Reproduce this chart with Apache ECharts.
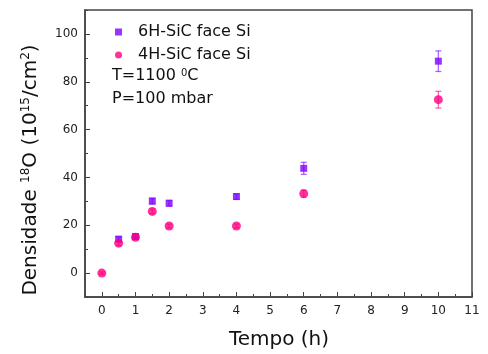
<!DOCTYPE html>
<html><head><meta charset="utf-8">
<script src="https://cdn.jsdelivr.net/npm/echarts@6/dist/echarts.min.js"></script>
<style>html,body{margin:0;padding:0;background:#fff}#c{width:488px;height:354px}</style>
</head><body><div id="c"></div>
<script>
const times6H = [0.5, 1, 1.5, 2, 4, 6, 10];
const dens6H  = [14.2, 15.3, 30.1, 29.2, 32.0, 43.8, 88.6];
const err6H   = [1.0, 1.0, 1.2, 1.2, 1.2, 2.5, 4.3];
const times4H = [0, 0.5, 1, 1.5, 2, 4, 6, 10];
const dens4H  = [0, 12.5, 15.0, 25.8, 19.7, 19.7, 33.2, 72.5];
const err4H   = [0.5, 1.0, 1.0, 1.0, 0.8, 0.8, 1.5, 3.5];
const xTicks = [0,1,2,3,4,5,6,7,8,9,10,11];
const xMinor = [-0.5,0.5,1.5,2.5,3.5,4.5,5.5,6.5,7.5,8.5,9.5,10.5];
const yTicks = [0,20,40,60,80,100];
const yMinor = [-10,10,30,50,70,90,110];

const c6 = '#7f00ff', c4 = '#ff0080';
const FONT = 'DejaVu Sans';

function errSeries(name, xs, ys, es, color){
  return {
    name: name + ' err', type: 'custom', xAxisIndex: 0, yAxisIndex: 0, z: 1,
    data: xs.map((x,i)=>[x, ys[i]-es[i], ys[i]+es[i]]),
    renderItem: function(params, api){
      const lo = api.coord([api.value(0), api.value(1)]);
      const hi = api.coord([api.value(0), api.value(2)]);
      const w = 3;
      const st = {stroke: color, lineWidth: 1.3, opacity: 0.6};
      return {type:'group', children:[
        {type:'line', shape:{x1:lo[0],y1:lo[1],x2:hi[0],y2:hi[1]}, style:st},
        {type:'line', shape:{x1:lo[0]-w,y1:lo[1],x2:lo[0]+w,y2:lo[1]}, style:st},
        {type:'line', shape:{x1:hi[0]-w,y1:hi[1],x2:hi[0]+w,y2:hi[1]}, style:st}
      ]};
    }
  };
}

const axisLineStyle = {color:'#444', width:1.5};
const chart = echarts.init(document.getElementById('c'));
chart.setOption({
  animation:false,
  textStyle:{fontFamily:FONT},
  grid:{left:85, right:16, top:10, bottom:57, show:true, borderColor:'#444', borderWidth:1.5, backgroundColor:'transparent'},
  xAxis:[
    {type:'value', min:-0.5, max:11, splitLine:{show:false},
     axisLine:{show:true, onZero:false, lineStyle:axisLineStyle},
     axisTick:{show:true, inside:true, length:5, customValues:xTicks, lineStyle:{color:'#444'}},
     axisLabel:{show:true, customValues:xTicks, fontSize:12, color:'#222', fontFamily:FONT, margin:8}},
    {type:'value', min:-0.5, max:11, position:'bottom', splitLine:{show:false},
     axisLine:{show:false, onZero:false},
     axisTick:{show:true, inside:true, length:3, customValues:xMinor, lineStyle:{color:'#444'}},
     axisLabel:{show:false}}
  ],
  yAxis:[
    {type:'value', min:-10, max:110, splitLine:{show:false},
     axisLine:{show:true, onZero:false, lineStyle:axisLineStyle},
     axisTick:{show:true, inside:true, length:5, customValues:yTicks, lineStyle:{color:'#444'}},
     axisLabel:{show:true, customValues:yTicks, fontSize:12, color:'#222', fontFamily:FONT, margin:7}},
    {type:'value', min:-10, max:110, position:'left', splitLine:{show:false},
     axisLine:{show:false, onZero:false},
     axisTick:{show:true, inside:true, length:3, customValues:yMinor, lineStyle:{color:'#444'}},
     axisLabel:{show:false}}
  ],
  legend:{
    orient:'vertical', left:110, top:19, itemGap:7, itemWidth:7, itemHeight:7,
    data:[{name:'6H-SiC face Si', icon:'rect'},{name:'4H-SiC face Si', icon:'circle'}],
    textStyle:{fontSize:16, color:'#111', fontFamily:FONT, padding:[0,0,0,11]}
  },
  series:[
    errSeries('6H', times6H, dens6H, err6H, c6),
    errSeries('4H', times4H, dens4H, err4H, c4),
    {name:'6H-SiC face Si', type:'scatter', symbol:'rect', symbolSize:7, z:3,
     itemStyle:{color:c6}, data: times6H.map((x,i)=>[x, dens6H[i]])},
    {name:'4H-SiC face Si', type:'scatter', symbol:'circle', symbolSize:9, z:4,
     itemStyle:{color:c4}, data: times4H.map((x,i)=>[x, dens4H[i]])}
  ],
  graphic:[
    {type:'text', left:112, top:68, style:{
      rich:{n:{fontSize:16, fill:'#111', fontFamily:FONT}, s:{fontSize:10, fill:'#111', fontFamily:FONT, verticalAlign:'top', padding:[0,0,6,0]}},
      text:'{n|T=1100 }{s|0}{n|C}'}},
    {type:'text', left:112, top:91, style:{text:'P=100 mbar', fontSize:16, fill:'#111', fontFamily:FONT}},
    {type:'text', x:279, y:340, style:{text:'Tempo (h)', fontSize:20, fill:'#111', fontFamily:FONT, align:'center', verticalAlign:'middle'}},
    {type:'text', x:31, y:170, rotation:Math.PI/2, style:{
      align:'center', verticalAlign:'middle',
      rich:{n:{fontSize:20, fill:'#111', fontFamily:FONT}, s:{fontSize:12, fill:'#111', fontFamily:FONT, verticalAlign:'top', padding:[0,0,10,0]}},
      text:'{n|Densidade }{s|18}{n|O (10}{s|15}{n|/cm}{s|2}{n|)}'}}
  ]
});
</script></body></html>
